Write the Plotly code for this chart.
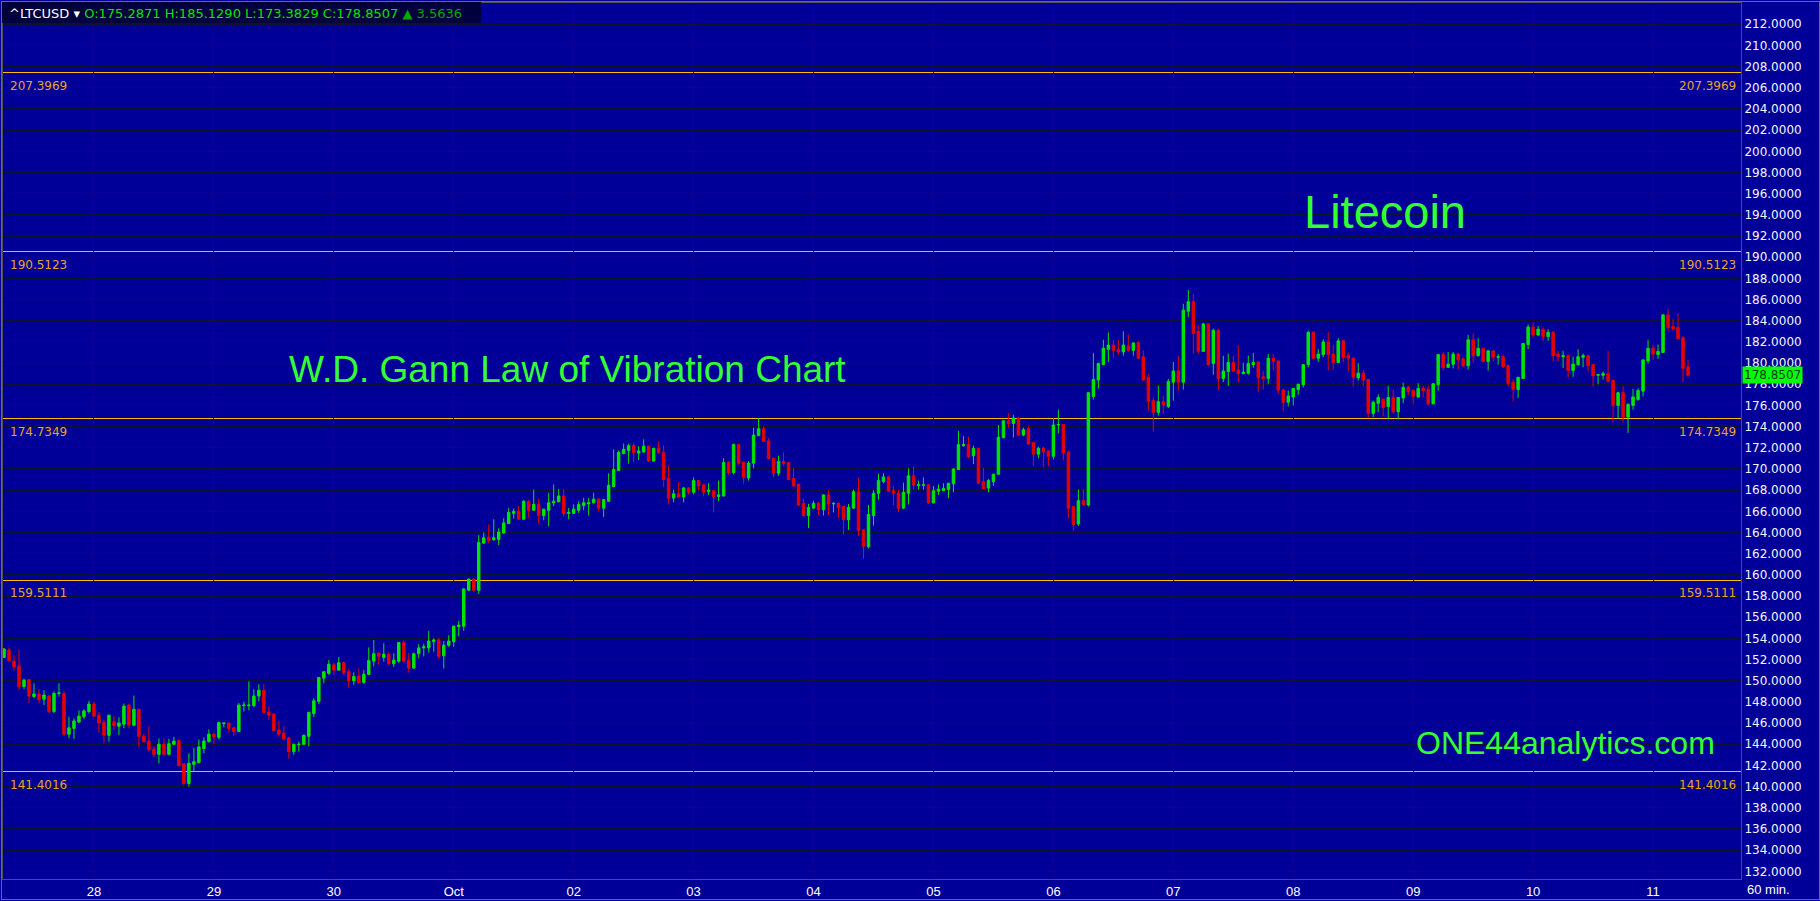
import pandas as pd
import plotly.graph_objects as go

# ---------------- data (hourly LTCUSD candles) ----------------
opens = [
    152.2, 152.9, 151.85, 151.4, 149.45, 150.1, 148.5, 148.75, 148.25, 148.55,
    147.1, 148.8, 148.8, 144.95, 145.5, 146.1, 146.6, 147.1, 147.8, 146.75,
    146.05, 144.85, 146.1, 145.7, 145.9, 147.7, 145.8, 147.3, 144.75, 144.3,
    143.55, 143.05, 144.0, 143.05, 144.0, 144.35, 142.15, 140.3, 142.1, 142.25,
    143.6, 144.25, 144.95, 144.65, 145.95, 146.0, 145.55, 145.2, 147.65, 147.65,
    147.65, 148.55, 149.1, 147.05, 146.85, 145.35, 145.05, 144.6, 143.3, 143.95,
    144.0, 144.75, 146.9, 148.05, 150.25, 150.7, 151.5, 151.0, 151.7, 150.85,
    150.0, 150.4, 149.85, 150.6, 151.85, 152.6, 152.2, 152.5, 151.6, 151.85,
    153.6, 151.95, 151.2, 152.55, 153.1, 153.1, 153.7, 153.85, 152.35, 153.35,
    153.7, 155.1, 155.15, 158.55, 159.6, 158.55, 163.0, 163.55, 163.3, 163.35,
    163.95, 164.85, 165.8, 166.0, 165.25, 166.95, 166.1, 166.65, 165.6, 166.1,
    166.8, 166.9, 167.45, 165.8, 165.8, 166.1, 166.55, 166.7, 166.8, 167.15,
    166.3, 166.95, 168.35, 169.85, 171.45, 171.75, 172.2, 171.5, 171.6, 172.15,
    170.75, 171.95, 171.55, 169.1, 167.25, 167.65, 167.35, 168.2,
    167.8, 168.9, 168.5, 167.85, 167.95, 167.4, 167.45, 170.6, 169.65, 172.3,
    170.65, 169.15, 170.55, 173.15, 173.8, 172.65, 171.0, 169.6, 170.7, 170.6,
    169.1, 168.55, 166.75, 165.6, 166.3, 166.75, 166.15, 167.55, 166.7, 166.75,
    166.45, 165.2, 166.3, 167.85, 164.25, 162.65, 165.6, 167.7, 168.8, 169.25,
    167.95, 167.7, 166.3, 167.7, 169.35, 168.45, 168.45, 168.5, 166.8, 167.9,
    167.95, 168.05, 168.6, 169.95, 172.2, 172.3, 171.25, 171.95, 168.8, 168.2,
    168.8, 169.5, 172.95, 174.55, 174.3, 174.8, 173.2, 173.8, 172.5, 171.4,
    171.95, 171.7,
    171.2, 174.15, 174.2, 171.55, 166.45, 164.8, 167.0, 166.6, 176.85, 178.4,
    179.85, 181.3, 181.7, 181.3, 181.05, 181.6, 181.2, 181.95, 180.6, 178.65,
    176.45, 175.35, 176.35, 175.9, 178.2, 179.25, 178.2, 184.9, 185.8, 183.0,
    181.1, 183.7, 179.95, 183.1, 178.55, 179.2, 180.05, 179.35, 179.0, 179.05,
    179.85, 180.1, 178.7, 178.55, 180.45, 180.2, 177.45, 176.3, 176.8, 177.5,
    177.95, 179.85, 182.9, 180.45, 180.8, 182.0, 180.85, 180.05, 182.1, 180.7,
    180.45, 178.6, 179.05, 178.45, 175.25, 176.2, 176.6, 175.9, 176.75, 175.4,
    176.7, 177.7,
    177.4, 176.8, 177.6, 177.5, 176.15, 177.95, 180.8, 179.6, 179.9, 180.85,
    180.4, 179.75, 182.2, 180.7, 181.4, 180.15, 181.15, 180.55, 180.6, 179.75,
    178.2, 177.5, 178.55, 181.75, 183.4, 182.65, 183.2, 182.5, 182.9, 180.85,
    180.6, 180.7, 179.3, 179.85, 180.55, 180.7, 179.85, 178.85, 178.85, 179.0,
    178.35, 176.0, 177.2, 174.9, 176.0, 176.55, 177.35, 180.2, 181.4, 180.8,
    181.0, 184.55, 183.45, 183.35, 182.4, 179.65,
]

highs = [
    153.1, 153.15, 152.4, 152.95, 150.2, 150.15, 149.75, 149.2, 149.1, 148.65,
    149.0, 149.75, 149.05, 146.6, 146.45, 147.2, 147.3, 148.1, 148.0, 147.05,
    146.3, 146.75, 146.65, 146.55, 147.85, 147.85, 148.6, 147.35, 145.0, 145.7,
    143.8, 144.55, 144.55, 144.5, 144.7, 144.4, 142.2, 143.15, 143.65, 144.45,
    144.65, 145.4, 145.1, 146.15, 146.05, 146.05, 145.6, 147.9, 148.0, 149.95,
    149.2, 149.65, 149.7, 147.55, 146.9, 146.2, 145.7, 144.7, 144.05, 144.25,
    144.9, 147.1, 148.35, 150.3, 150.9, 151.95, 151.7, 152.25, 151.8, 151.15,
    150.8, 151.15, 151.0, 153.15, 153.85, 152.7, 153.55, 152.7, 152.6, 153.65,
    153.8, 152.6, 152.65, 153.45, 153.5, 154.7, 154.0, 154.05, 153.75, 154.3,
    155.2, 155.65, 158.75, 159.65, 159.7, 163.75, 164.0, 164.75, 165.25, 164.4,
    165.35, 166.3, 166.25, 166.5, 167.05, 167.05, 168.05, 167.2, 166.25, 167.75,
    168.55, 168.1, 168.1, 166.3, 166.65, 166.95, 167.25, 167.25, 167.75, 167.2,
    167.15, 169.6, 171.85, 171.75, 172.4, 172.4, 172.4, 172.15, 172.8, 172.2,
    172.0, 172.6, 172.25, 170.3, 168.05, 168.75, 168.3, 168.3,
    169.2, 168.95, 168.55, 168.65, 168.0, 168.9, 171.0, 170.75, 172.4, 172.35,
    170.7, 170.75, 173.9, 174.8, 174.0, 172.9, 171.05, 171.25, 171.55, 170.65,
    170.1, 168.6, 167.2, 166.7, 167.0, 166.9, 167.6, 168.0, 166.85, 166.8,
    166.5, 166.7, 168.05, 169.15, 164.3, 166.6, 168.0, 169.55, 169.6, 169.35,
    168.4, 168.0, 168.7, 170.05, 170.2, 168.9, 169.2, 168.55, 168.4, 168.55,
    168.65, 168.7, 170.05, 173.6, 173.1, 173.05, 172.2, 172.0, 170.1, 169.05,
    169.55, 174.15, 174.6, 175.25, 175.1, 174.9, 173.9, 174.05, 172.55, 172.1,
    172.1, 171.75,
    174.8, 175.6, 174.25, 171.75, 166.5, 168.05, 168.1, 177.3, 180.95, 180.05,
    182.2, 182.9, 182.2, 182.2, 183.0, 182.7, 181.95, 182.1, 181.2, 178.95,
    176.75, 177.85, 176.9, 178.5, 180.1, 180.7, 185.6, 186.9, 186.55, 183.6,
    183.8, 183.75, 183.25, 183.25, 180.7, 180.9, 180.7, 181.7, 180.05, 180.7,
    180.95, 180.15, 179.25, 180.85, 180.85, 180.25, 177.55, 177.4, 177.65, 178.05,
    179.9, 183.05, 183.0, 181.3, 182.25, 182.95, 181.7, 182.35, 182.15, 181.0,
    180.6, 180.0, 179.35, 178.5, 176.45, 177.05, 176.65, 177.85, 177.5, 176.8,
    178.15, 177.85,
    177.55, 178.1, 177.85, 177.85, 178.1, 180.85, 181.05, 181.05, 181.05, 181.0,
    180.5, 182.65, 182.8, 182.35, 181.45, 181.25, 181.2, 180.85, 180.8, 179.85,
    178.45, 178.7, 181.9, 183.65, 183.85, 183.5, 183.35, 183.2, 183.05, 181.15,
    181.15, 180.85, 180.6, 181.3, 180.9, 180.8, 179.9, 178.95, 179.2, 181.15,
    178.4, 177.3, 177.8, 176.2, 177.55, 177.6, 180.35, 182.2, 181.75, 181.75,
    184.6, 185.1, 184.15, 184.7, 182.55, 180.3,
]

lows = [
    152.15, 151.8, 150.95, 149.1, 149.2, 147.9, 148.35, 147.9, 147.7, 146.9,
    146.95, 148.5, 144.8, 144.55, 144.5, 146.0, 146.4, 146.9, 146.6, 145.1,
    144.1, 144.25, 145.35, 144.85, 145.5, 145.5, 145.7, 143.7, 144.15, 143.35,
    142.8, 142.2, 142.9, 142.95, 143.9, 141.9, 140.1, 140.0, 141.4, 142.2,
    143.15, 144.15, 144.0, 144.45, 145.6, 145.1, 144.8, 145.15, 147.1, 147.2,
    147.5, 148.05, 146.9, 146.3, 145.2, 144.7, 144.4, 142.65, 143.0, 143.3,
    143.9, 143.8, 146.55, 147.8, 149.75, 150.55, 150.55, 150.95, 150.55, 149.3,
    149.6, 149.75, 149.7, 150.55, 151.35, 151.5, 151.8, 151.45, 151.3, 151.7,
    151.7, 150.75, 151.1, 152.1, 152.3, 152.65, 152.75, 152.1, 151.15, 153.2,
    153.2, 154.2, 154.7, 158.5, 158.4, 158.2, 162.9, 163.0, 163.25, 162.8,
    163.9, 164.8, 165.3, 165.2, 165.2, 165.4, 166.05, 164.8, 165.15, 164.6,
    166.5, 166.85, 165.5, 165.25, 165.75, 165.85, 166.1, 165.6, 166.75, 166.0,
    165.45, 166.9, 168.25, 169.8, 171.4, 170.5, 170.65, 170.85, 171.55, 170.65,
    170.7, 171.4, 168.3, 166.65, 166.85, 167.3, 166.85, 167.6,
    167.6, 168.0, 167.4, 167.55, 165.9, 166.95, 167.4, 169.45, 169.5, 170.4,
    168.6, 168.9, 170.05, 173.1, 172.55, 170.95, 169.2, 169.35, 170.3, 168.95,
    168.35, 166.5, 165.5, 164.4, 166.25, 165.65, 165.6, 165.65, 165.9, 165.4,
    163.8, 164.25, 166.25, 163.65, 161.55, 162.5, 164.65, 167.1, 168.65, 167.85,
    166.6, 165.9, 166.2, 166.65, 168.05, 168.05, 168.05, 166.7, 166.75, 167.55,
    167.9, 167.25, 167.8, 169.9, 172.1, 171.0, 170.45, 168.6, 168.1, 167.8,
    168.4, 169.45, 172.9, 173.9, 172.95, 173.1, 173.1, 172.3, 170.3, 171.0,
    170.15, 170.3,
    170.9, 173.35, 170.8, 165.35, 164.15, 164.6, 166.5, 166.45, 176.55, 177.6,
    179.8, 180.1, 180.45, 180.75, 180.7, 181.05, 180.7, 180.4, 178.35, 175.5,
    173.55, 175.05, 175.15, 175.75, 176.45, 177.4, 177.5, 184.35, 180.9, 180.9,
    181.05, 179.75, 178.9, 177.45, 178.2, 177.85, 179.1, 178.2, 178.95, 178.9,
    179.55, 177.3, 177.5, 178.0, 179.3, 177.1, 175.45, 175.9, 176.0, 177.0,
    177.7, 179.6, 180.4, 180.1, 180.55, 179.3, 179.35, 180.0, 180.05, 179.2,
    177.8, 178.35, 177.85, 174.8, 174.9, 175.35, 174.95, 174.7, 175.25, 174.7,
    176.2, 177.0,
    176.15, 176.7, 176.8, 176.0, 176.1, 177.4, 179.3, 179.55, 179.5, 179.4,
    179.6, 179.4, 180.05, 180.6, 180.05, 179.3, 180.15, 179.85, 179.55, 177.8,
    176.4, 176.7, 178.5, 181.3, 182.4, 182.55, 182.05, 182.1, 180.15, 180.15,
    179.55, 178.65, 178.7, 179.75, 179.6, 179.2, 177.8, 178.0, 178.45, 178.2,
    174.4, 174.75, 174.4, 173.4, 175.6, 176.45, 176.85, 179.95, 180.3, 180.4,
    180.95, 183.0, 183.0, 182.25, 178.2, 178.7,
]

closes = [
    153.0, 151.9, 151.3, 149.45, 150.05, 148.55, 148.75, 148.2, 148.65, 147.1,
    148.8, 148.85, 144.95, 145.55, 146.2, 146.65, 147.15, 147.8, 146.65, 146.0,
    144.85, 146.75, 145.75, 146.0, 147.6, 145.8, 147.3, 144.75, 144.25, 143.5,
    143.05, 144.0, 143.05, 144.05, 144.3, 142.0, 140.3, 142.2, 142.35, 143.75,
    144.3, 144.95, 144.7, 146.05, 146.0, 145.5, 145.2, 147.7, 147.7, 147.7,
    148.55, 149.1, 147.0, 146.75, 145.3, 144.95, 144.5, 143.3, 144.0, 144.0,
    144.85, 147.0, 148.1, 150.3, 150.85, 151.55, 151.0, 151.7, 150.75, 150.0,
    150.4, 149.8, 150.6, 151.9, 152.55, 152.3, 152.5, 151.6, 151.95, 153.6,
    151.85, 151.2, 152.55, 153.1, 153.2, 153.75, 153.85, 152.3, 153.35, 153.75,
    155.15, 155.25, 158.65, 159.6, 158.55, 163.05, 163.5, 163.25, 163.5, 164.05,
    164.9, 165.9, 166.0, 165.25, 166.95, 166.1, 166.65, 165.6, 166.2, 166.8,
    166.95, 167.45, 165.8, 165.9, 166.2, 166.65, 166.8, 166.8, 167.15, 166.3,
    167.1, 168.45, 169.95, 171.55, 171.85, 172.2, 171.55, 171.7, 172.15, 170.75,
    171.95, 171.55, 169.0, 167.25, 167.65, 167.35, 168.2, 167.8,
    168.9, 168.4, 167.8, 168.0, 167.4, 167.55, 170.6, 169.65, 172.3, 170.55,
    169.2, 170.55, 173.2, 173.8, 172.6, 171.0, 169.6, 170.7, 170.5, 169.0,
    168.4, 166.6, 165.6, 166.35, 166.75, 166.15, 167.55, 166.7, 166.75, 166.35,
    165.2, 166.35, 167.85, 164.2, 162.7, 165.7, 167.7, 168.9, 169.25, 167.9,
    167.7, 166.3, 167.8, 169.35, 168.5, 168.5, 168.5, 166.8, 167.95, 168.1,
    168.15, 168.65, 170.0, 172.3, 172.3, 171.15, 171.95, 168.65, 168.15, 168.9,
    169.5, 173.0, 174.55, 174.3, 174.8, 173.2, 173.7, 172.35, 171.4, 171.95,
    171.6, 171.2,
    174.15, 174.2, 171.5, 166.3, 164.75, 167.0, 166.65, 177.2, 178.45, 179.95,
    181.4, 181.7, 181.2, 181.05, 181.7, 181.2, 181.9, 180.45, 178.4, 176.4,
    175.35, 176.35, 176.05, 178.25, 179.25, 178.2, 185.0, 185.8, 182.8, 181.1,
    183.7, 179.85, 183.1, 178.55, 179.25, 180.05, 179.25, 179.0, 179.15, 179.95,
    180.05, 178.65, 178.55, 180.45, 180.15, 177.45, 176.3, 176.9, 177.6, 178.0,
    179.85, 182.9, 180.45, 180.85, 182.0, 180.8, 180.05, 182.1, 180.5, 180.45,
    178.65, 179.05, 178.4, 175.25, 176.3, 176.75, 175.8, 176.75, 175.4, 176.75,
    177.7, 177.3,
    176.85, 177.6, 177.4, 176.15, 178.05, 180.8, 179.55, 179.9, 180.85, 180.3,
    179.75, 182.2, 180.7, 181.4, 180.15, 181.15, 180.55, 180.6, 179.65, 178.05,
    177.5, 178.65, 181.85, 183.4, 182.65, 183.2, 182.5, 182.9, 180.7, 180.6,
    180.7, 179.3, 179.9, 180.6, 180.7, 179.75, 178.8, 178.9, 179.0, 178.25,
    176.0, 177.2, 174.9, 176.1, 176.8, 177.4, 180.3, 181.4, 180.85, 181.1,
    184.55, 183.35, 183.25, 182.3, 179.5, 178.8507,
]

first_bar = "2021-09-27 06:00"
times = pd.date_range(first_bar, periods=len(closes), freq="h")

day_ticks = pd.date_range("2021-09-28", "2021-10-11", freq="D")
day_labels = ["28", "29", "30", "Oct", "02", "03", "04", "05", "06", "07", "08", "09", "10", "11"]

price_ticks = list(range(132, 213, 2))

levels = [207.3969, 190.5123, 174.7349, 159.5111, 141.4016]

last_price = 178.8507
header_symbol = "^LTCUSD"
header_ohlc = "O:175.2871 H:185.1290 L:173.3829 C:178.8507"
header_change = "3.5636"

# ---------------- geometry helpers (pixels -> paper) ----------------
W, H = 1820, 901
ML, MR, MT, MB = 2, 79, 2, 21
PW, PH = W - ML - MR, H - MT - MB


def pxx(x):
    return (x - ML) / PW


def pxy(y):
    return (H - MB - y) / PH


BG = "#000099"
GRID = "#121230"
GREEN = "#00e600"
RED = "#e60000"
ORANGE = "#ffbb00"
LABEL_ORANGE = "#eaa424"
TXT_GREEN = "#33ff33"

fig = go.Figure()
fig.add_trace(go.Candlestick(
    x=times, open=opens, high=highs, low=lows, close=closes,
    increasing=dict(line=dict(color=GREEN, width=1), fillcolor=GREEN),
    decreasing=dict(line=dict(color=RED, width=1), fillcolor=RED),
    whiskerwidth=0, showlegend=False, hoverinfo="skip",
))

shapes = []
for lv in levels:
    shapes.append(dict(type="line", xref="paper", x0=0, x1=1, yref="y", y0=lv, y1=lv,
                       line=dict(color=ORANGE, width=1), layer="between"))
# header bar
shapes.append(dict(type="rect", xref="paper", yref="paper",
                   x0=pxx(0), x1=pxx(480), y0=pxy(22.5), y1=pxy(0),
                   fillcolor="#00003c", line=dict(width=0), layer="above"))
# outer frame
shapes.append(dict(type="rect", xref="paper", yref="paper",
                   x0=pxx(0.5), x1=pxx(1819.5), y0=pxy(900.5), y1=pxy(0.5),
                   line=dict(color="#6a6a6a", width=1), layer="above"))

annotations = []
for lv in levels:
    txt = f"{lv:.4f}"
    annotations.append(dict(xref="paper", x=pxx(7), xanchor="left", yref="y", y=lv,
                            yanchor="middle", yshift=-13, text=txt, showarrow=False,
                            font=dict(family="DejaVu Sans", size=12, color=LABEL_ORANGE)))
    annotations.append(dict(xref="paper", x=pxx(1738), xanchor="right", yref="y", y=lv,
                            yanchor="middle", yshift=-13, text=txt, showarrow=False,
                            font=dict(family="DejaVu Sans", size=12, color=LABEL_ORANGE)))

annotations.append(dict(xref="paper", yref="paper", x=pxx(567), y=pxy(369), xanchor="center",
                        yanchor="middle", showarrow=False, text="W.D. Gann Law of Vibration Chart",
                        font=dict(family="Liberation Sans, Arial", size=37, color=TXT_GREEN)))
annotations.append(dict(xref="paper", yref="paper", x=pxx(1385), y=pxy(211), xanchor="center",
                        yanchor="middle", showarrow=False, text="Litecoin",
                        font=dict(family="Liberation Sans, Arial", size=47, color=TXT_GREEN)))
annotations.append(dict(xref="paper", yref="paper", x=pxx(1565), y=pxy(744), xanchor="center",
                        yanchor="middle", showarrow=False, text="ONE44analytics.com",
                        font=dict(family="Liberation Sans, Arial", size=32, color=TXT_GREEN)))

annotations.append(dict(
    xref="paper", yref="paper", x=pxx(6), y=pxy(13), xanchor="left", yanchor="middle",
    showarrow=False,
    text=(f'<span style="color:#ffffff">{header_symbol} ▾ </span>'
          f'<span style="color:#00e600">{header_ohlc}</span>'
          f'<span style="color:#00a800"> ▲ {header_change}</span>'),
    font=dict(family="DejaVu Sans", size=13, color="#ffffff")))

annotations.append(dict(xref="paper", yref="y", x=1, y=last_price, xanchor="left", yanchor="middle",
                        xshift=1, showarrow=False, text=f"{last_price:.4f}", bgcolor="#00ff00",
                        borderpad=1, font=dict(family="DejaVu Sans", size=12, color="#0a3a1a")))

annotations.append(dict(xref="paper", yref="paper", x=pxx(1769), y=pxy(891), xanchor="center",
                        yanchor="middle", showarrow=False, text="60 min.",
                        font=dict(family="Liberation Sans Narrow, Liberation Sans", size=13, color="#ffffff")))

fig.update_layout(
    width=W, height=H,
    margin=dict(l=ML, r=MR, t=MT, b=MB),
    paper_bgcolor=BG, plot_bgcolor=BG,
    showlegend=False,
    shapes=shapes, annotations=annotations,
    xaxis=dict(
        type="date",
        range=["2021-09-27 05:48", "2021-10-11 17:36"],
        tickvals=day_ticks, ticktext=day_labels,
        showgrid=True, gridcolor=GRID, gridwidth=1,
        showline=True, linecolor="#505050", mirror=True,
        ticks="", rangeslider=dict(visible=False),
        tickfont=dict(family="Liberation Sans Narrow, Liberation Sans", size=13, color="#ffffff"),
        zeroline=False,
    ),
    yaxis=dict(
        side="right",
        range=[131.274, 214.007],
        tickvals=price_ticks, tickformat=".4f",
        showgrid=True, gridcolor=GRID, gridwidth=1,
        showline=True, linecolor="#505050", mirror=True,
        ticks="", zeroline=False,
        tickfont=dict(family="DejaVu Sans", size=12, color="#f4f4ff"),
    ),
)

fig.write_html(
    "out.html",
    config={"displayModeBar": False},
    post_script=(
        "document.body.style.margin='0px';document.body.style.overflow='hidden';"
        "document.querySelectorAll('.shapelayer path').forEach(function(p){"
        "p.style.shapeRendering='crispEdges';});"
    ),
)
